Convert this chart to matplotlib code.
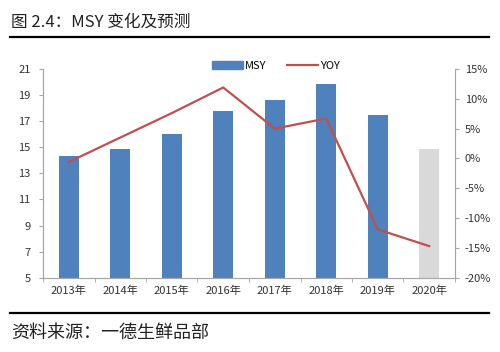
import matplotlib
matplotlib.use("Agg")
import matplotlib.pyplot as plt
import numpy as np
from matplotlib.lines import Line2D

plt.rcParams['font.family'] = ['Noto Sans CJK SC', 'DejaVu Sans']

years = ["2013年", "2014年", "2015年", "2016年", "2017年", "2018年", "2019年", "2020年"]
msy = [14.35, 14.9, 16.0, 17.8, 18.65, 19.85, 17.5, 14.9]
yoy = [-0.6, 3.5, 7.6, 11.9, 5.0, 6.7, -11.9, -14.7]
forecast = [False] * 7 + [True]

blue = "#4F81BD"
red = "#C0504D"
grey = "#D9D9D9"
axis_grey = "#A6A6A6"

fig = plt.figure(figsize=(5.0, 3.52), dpi=100)
ax = fig.add_axes([0.086, 0.211, 0.824, 0.593])
ax2 = ax.twinx()

x = np.arange(len(years))
colors = [grey if f else blue for f in forecast]
ax.bar(x, msy, width=0.38, color=colors, zorder=2)
ax2.plot(x, yoy, color=red, lw=1.6, zorder=3)

ax.set_xlim(-0.5, len(years) - 0.5)
ax.set_ylim(5, 21)
ax.set_yticks(range(5, 22, 2))
ax2.set_ylim(-20, 15)
ax2.set_yticks(range(-20, 16, 5))
ax2.set_yticklabels([f"{v}%" for v in range(-20, 16, 5)])

ax.set_xticks(x)
ax.set_xticklabels(years)
ax.set_xticks(np.arange(-0.5, len(years), 1), minor=True)
ax.tick_params(axis="x", which="major", length=0, pad=6)
ax.tick_params(axis="x", which="minor", length=3, color=axis_grey)

for a in (ax, ax2):
    a.spines["top"].set_visible(False)
    for s in ("left", "right", "bottom"):
        a.spines[s].set_color(axis_grey)
    a.tick_params(axis="y", labelsize=8, length=3, color=axis_grey, labelcolor="#333333")
ax.tick_params(axis="x", labelsize=8, labelcolor="#333333")
ax.tick_params(axis="y", pad=6)
ax2.tick_params(axis="y", pad=4)

handles = [plt.Rectangle((0, 0), 1, 1, color=blue), Line2D([0], [0], color=red, lw=1.6)]
ax.legend(handles, ["MSY", "YOY"], loc="upper center", bbox_to_anchor=(0.565, 1.085),
          ncol=2, frameon=False, fontsize=8, handlelength=2.8, handleheight=0.7,
          columnspacing=1.8, handletextpad=0.2)

fig.text(0.022, 0.937, "图 2.4：MSY 变化及预测", fontsize=12, fontweight="medium",
         color="#222222", va="center")
fig.add_artist(Line2D([0.02, 0.977], [0.895, 0.895], color="black", lw=1.6))
fig.add_artist(Line2D([0.02, 0.977], [0.111, 0.111], color="black", lw=1.6))
fig.text(0.022, 0.054, "资料来源：一德生鲜品部", fontsize=13, color="#222222", va="center")

fig.savefig("out.png", dpi=100)
